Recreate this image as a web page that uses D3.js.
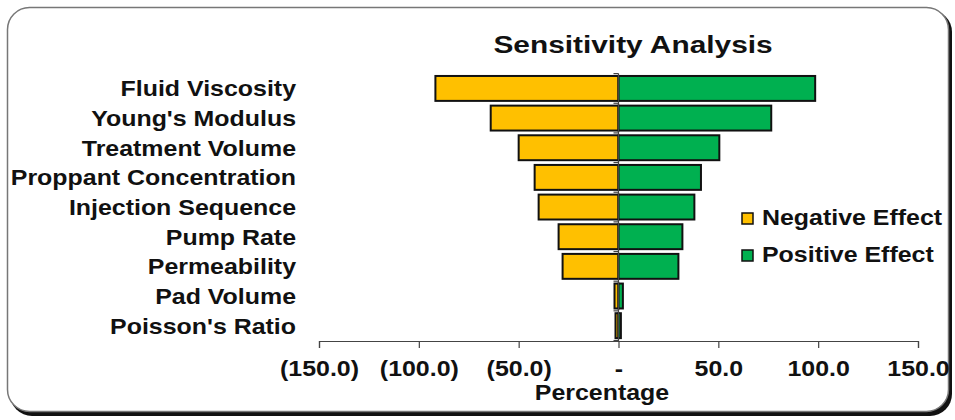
<!DOCTYPE html>
<meta charset="utf-8">
<title>Sensitivity Analysis</title>
<style>
body { margin: 0; background: #fff; }
svg { display: block; font-family: "Liberation Sans", Arial, Helvetica, sans-serif; font-weight: bold; }
</style>
<body>
<script src="https://cdn.jsdelivr.net/npm/d3@7"></script>
<script>
'use strict';

// data
const params = ["Fluid Viscosity", "Young's Modulus", "Treatment Volume", "Proppant Concentration",
  "Injection Sequence", "Pump Rate", "Permeability", "Pad Volume", "Poisson's Ratio"];
const negEffect = [-91.7, -64, -50, -42, -40, -30, -28, -2, -1.5];
const posEffect = [98.5, 76.5, 50.5, 41.3, 38, 32, 30, 2.2, 1.2];
const xTicks = [-150, -100, -50, 0, 50, 100, 150];
const seriesNames = ["Negative Effect", "Positive Effect"];
const colors = ["#FFC000", "#00B050"];

const W = 955, H = 420;
const fs = 21.5, sx = 1.16;   // the original text is a bit wide

const svg = d3.select("body").append("svg")
    .attr("width", W)
    .attr("height", H);

// frame with shadow
svg.append("rect")
    .attr("x", 10).attr("y", 10).attr("width", 942).attr("height", 406)
    .attr("rx", 22)
    .attr("fill", "#111");
svg.append("rect")
    .attr("x", 7.5).attr("y", 7.5).attr("width", 941).attr("height", 404)
    .attr("rx", 22)
    .attr("fill", "#fff")
    .attr("stroke", "#777")
    .attr("stroke-width", 1.5);

const x = d3.scaleLinear().domain([-150, 150]).range([319, 918]);
const y = d3.scaleBand().domain(params).range([73.6, 340.5]).paddingInner(0.16).paddingOuter(0.08);

const fmt = function(v) {
  if (v === 0) return "-";
  const s = d3.format(".1f")(Math.abs(v));
  return v < 0 ? "(" + s + ")" : s;
};

const place = (px, py, s) => "translate(" + px + "," + py + ") scale(" + s + ",1)";

svg.append("text")
    .attr("transform", place(633, 53, 1.27))
    .attr("text-anchor", "middle")
    .attr("font-size", 23.5)
    .attr("fill", "#111")
    .text("Sensitivity Analysis");

// x axis
const xAxis = svg.append("g")
    .attr("transform", "translate(0,341)")
    .call(d3.axisBottom(x).tickValues(xTicks).tickSize(7).tickFormat(fmt));
xAxis.select(".domain").attr("stroke", "#444").attr("stroke-width", 1.2);
xAxis.selectAll(".tick line").attr("stroke", "#444").attr("stroke-width", 1.2);
xAxis.selectAll(".tick text")
    .attr("fill", "#111")
    .attr("font-size", fs)
    .attr("font-family", "Liberation Sans, Arial, sans-serif")
    .attr("font-weight", "bold")
    .attr("y", 0)
    .attr("dy", 0)
    .attr("transform", place(0, 35, sx));

svg.append("text")
    .attr("transform", place(602, 400, sx))
    .attr("text-anchor", "middle")
    .attr("font-size", fs)
    .attr("fill", "#111")
    .text("Percentage");

// category labels
svg.append("g").selectAll("text")
  .data(params)
  .enter().append("text")
    .attr("transform", (d) => place(296, y(d) + y.bandwidth() / 2 + 8, sx))
    .attr("text-anchor", "end")
    .attr("font-size", fs)
    .attr("fill", "#111")
    .text((d) => d);

// bars
const rows = params.map((p, i) => ({name: p, neg: negEffect[i], pos: posEffect[i]}));

const bars = svg.append("g");
bars.selectAll(".neg")
  .data(rows)
  .enter().append("rect")
    .attr("class", "neg")
    .attr("x", (d) => x(d.neg))
    .attr("y", (d) => y(d.name))
    .attr("width", (d) => x(0) - x(d.neg))
    .attr("height", y.bandwidth())
    .attr("fill", colors[0])
    .attr("stroke", "#111")
    .attr("stroke-width", 2);
bars.selectAll(".pos")
  .data(rows)
  .enter().append("rect")
    .attr("class", "pos")
    .attr("x", x(0))
    .attr("y", (d) => y(d.name))
    .attr("width", (d) => x(d.pos) - x(0))
    .attr("height", y.bandwidth())
    .attr("fill", colors[1])
    .attr("stroke", "#111")
    .attr("stroke-width", 2);

// category axis on zero
const yAxis = svg.append("g")
    .attr("transform", "translate(" + x(0) + ",0)");
yAxis.append("line")
    .attr("y1", 73.6).attr("y2", 341)
    .attr("stroke", "#444").attr("stroke-width", 1.2);
yAxis.selectAll(".tk")
  .data(d3.range(params.length + 1))
  .enter().append("line")
    .attr("x1", -5).attr("x2", 0)
    .attr("y1", (i) => 73.6 + i * (340.5 - 73.6) / params.length)
    .attr("y2", (i) => 73.6 + i * (340.5 - 73.6) / params.length)
    .attr("stroke", "#444").attr("stroke-width", 1.2);

// legend
const legend = svg.append("g");
seriesNames.forEach((s, i) => {
  legend.append("rect")
      .attr("x", 742).attr("y", 213 + i * 37)
      .attr("width", 11).attr("height", 11)
      .attr("fill", colors[i])
      .attr("stroke", "#111")
      .attr("stroke-width", 1.5);
  legend.append("text")
      .attr("transform", place(762, 225 + i * 37, sx))
      .attr("font-size", fs)
      .attr("fill", "#111")
      .text(s);
});
</script>
</body>
